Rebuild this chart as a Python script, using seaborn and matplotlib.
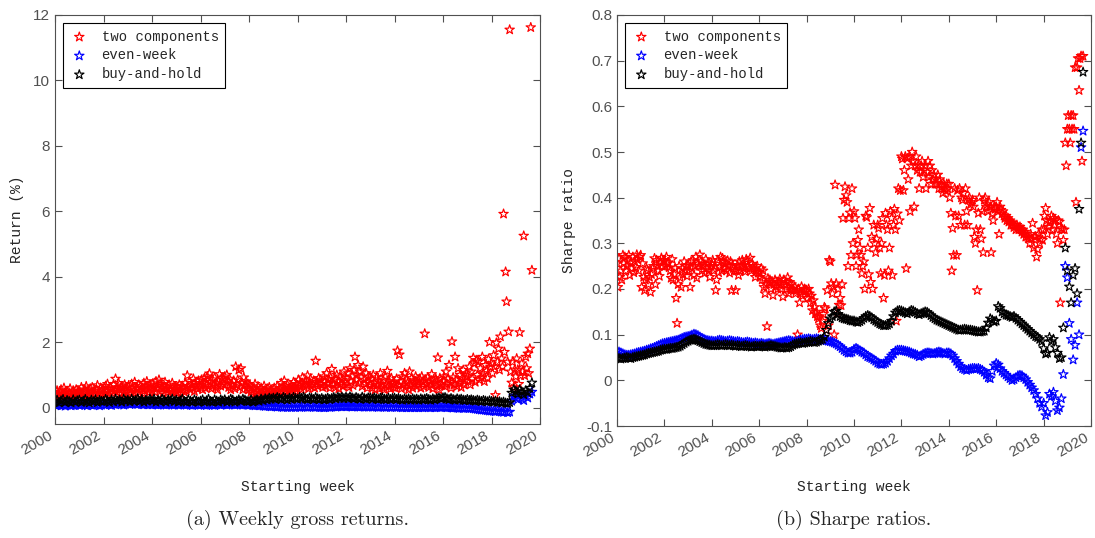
import matplotlib
matplotlib.use("Agg")
import matplotlib.pyplot as plt
import matplotlib.transforms as mtransforms
import pandas as pd
import seaborn as sns

# ---- data (panel a: weekly gross return in %, panel b: Sharpe ratio) ----
# red series are kept twice a month, blue / black bands once a month, all starting Jan 2000

series_names = ["two components", "even-week", "buy-and-hold"]
series_colors = ["#ff0000", "#0000ff", "#000000"]

ret_two = [
    # 2000
    0.45, 0.35, 0.52, 0.40, 0.30, 0.48, 0.55, 0.38, 0.42, 0.60, 0.35, 0.47,
    0.50, 0.33, 0.44, 0.58, 0.40, 0.36, 0.52, 0.45, 0.38, 0.55, 0.42, 0.48,
    # 2001
    0.50, 0.38, 0.62, 0.44, 0.36, 0.55, 0.48, 0.65, 0.40, 0.52, 0.35, 0.58,
    0.46, 0.62, 0.42, 0.50, 0.38, 0.56, 0.68, 0.45, 0.40, 0.60, 0.50, 0.44,
    # 2002
    0.55, 0.42, 0.66, 0.48, 0.72, 0.50, 0.40, 0.62, 0.56, 0.45, 0.70, 0.52,
    0.88, 0.60, 0.48, 0.75, 0.55, 0.42, 0.65, 0.58, 0.46, 0.70, 0.52, 0.62,
    # 2003
    0.48, 0.68, 0.55, 0.42, 0.72, 0.60, 0.50, 0.78, 0.45, 0.62, 0.56, 0.70,
    0.48, 0.66, 0.58, 0.44, 0.75, 0.52, 0.64, 0.80, 0.55, 0.47, 0.70, 0.60,
    # 2004
    0.52, 0.74, 0.62, 0.48, 0.80, 0.58, 0.68, 0.85, 0.50, 0.72, 0.60, 0.45,
    0.66, 0.78, 0.55, 0.62, 0.48, 0.70, 0.58, 0.52, 0.75, 0.45, 0.64, 0.56,
    # 2005
    0.50, 0.62, 0.45, 0.70, 0.55, 0.42, 0.66, 0.58, 0.48, 0.75, 0.52, 0.98,
    0.62, 0.80, 0.55, 0.70, 0.60, 0.88, 0.50, 0.75, 0.66, 0.58, 0.82, 0.70,
    # 2006
    0.62, 0.85, 0.55, 0.75, 0.90, 0.60, 0.70, 0.95, 0.65, 1.04, 0.78, 0.58,
    0.86, 0.68, 0.92, 0.62, 0.74, 0.55, 0.80, 1.02, 0.66, 0.90, 0.72, 0.85,
    # 2007
    0.95, 0.70, 1.00, 0.80, 0.62, 0.88, 0.55, 0.72, 0.66, 0.82, 0.58, 1.25,
    0.70, 0.85, 1.15, 0.62, 1.20, 0.75, 0.55, 0.92, 0.68, 0.80, 0.60, 0.72,
    # 2008
    0.55, 0.68, 0.48, 0.62, 0.40, 0.58, 0.72, 0.45, 0.52, 0.65, 0.38, 0.55,
    0.60, 0.42, 0.50, 0.66, 0.35, 0.52, 0.58, 0.44, 0.62, 0.48, 0.55, 0.40,
    # 2009
    0.45, 0.60, 0.38, 0.52, 0.66, 0.48, 0.40, 0.58, 0.75, 0.50, 0.62, 0.82,
    0.55, 0.45, 0.70, 0.52, 0.60, 0.48, 0.66, 0.55, 0.78, 0.62, 0.50, 0.72,
    # 2010
    0.58, 0.85, 0.65, 0.75, 0.55, 0.92, 0.70, 0.62, 0.80, 0.68, 0.98, 0.58,
    0.75, 0.88, 0.65, 0.72, 0.82, 0.60, 1.43, 0.78, 0.66, 0.90, 0.72, 0.85,
    # 2011
    0.70, 0.62, 0.95, 0.78, 0.65, 1.05, 0.72, 0.85, 0.60, 0.92, 1.18, 0.75,
    0.68, 0.88, 0.62, 1.00, 0.80, 0.58, 0.95, 0.72, 0.85, 0.65, 1.10, 0.78,
    # 2012
    0.90, 0.70, 1.05, 0.62, 1.20, 0.80, 0.95, 0.68, 1.15, 1.55, 0.85, 1.00,
    1.30, 0.75, 1.10, 0.92, 0.65, 1.25, 0.85, 0.72, 1.05, 0.60, 0.95, 0.78,
    # 2013
    0.70, 0.88, 0.60, 1.00, 0.75, 0.55, 0.92, 0.68, 0.80, 0.58, 1.05, 0.72,
    0.62, 0.85, 0.55, 0.95, 0.70, 1.12, 0.65, 0.80, 0.58, 0.90, 0.72, 0.62,
    # 2014
    0.75, 0.60, 0.88, 1.74, 0.68, 1.62, 0.80, 0.58, 0.95, 0.70, 1.05, 0.62,
    0.85, 0.75, 0.55, 1.10, 0.68, 0.90, 0.60, 0.82, 0.72, 0.95, 0.65, 0.78,
    # 2015
    0.70, 0.88, 0.60, 0.95, 0.78, 0.65, 2.26, 0.85, 0.72, 0.92, 0.62, 0.80,
    0.70, 1.02, 0.58, 0.85, 0.75, 0.88, 0.65, 1.53, 0.55, 0.90, 0.72, 0.68,
    # 2016
    0.80, 0.95, 0.65, 1.10, 0.72, 0.88, 1.30, 0.78, 0.60, 2.02, 0.92, 0.70,
    1.55, 0.85, 0.65, 1.20, 0.75, 1.00, 0.62, 0.90, 1.15, 0.70, 0.82, 1.05,
    # 2017
    0.95, 0.80, 1.25, 0.70, 1.10, 0.88, 1.52, 1.35, 0.78, 1.45, 1.00, 1.40,
    0.85, 1.20, 0.92, 1.55, 1.05, 0.80, 1.30, 1.12, 0.90, 1.48, 2.00, 1.25,
    # 2018
    1.35, 1.05, 1.60, 1.25, 0.38, 1.98, 1.40, 1.80, 1.15, 2.17, 1.50, 1.25,
    5.92, 1.70, 4.15, 3.24, 1.40, 2.32, 11.55, 1.10, 0.76, 1.40, 0.62, 1.16,
    # 2019
    0.95, 1.50, 1.16, 0.72, 2.30, 0.98, 1.35, 1.10, 5.25, 0.98, 1.55, 1.20,
    1.65, 1.05, 1.80, 11.62, 4.20,
]

ret_even = [
    0.09, 0.07, 0.10, 0.06, 0.08, 0.05, 0.09, 0.10, 0.06, 0.08, 0.07, 0.10,  # 2000
    0.07, 0.09, 0.10, 0.08, 0.06, 0.10, 0.08, 0.07, 0.10, 0.09, 0.06, 0.08,  # 2001
    0.10, 0.08, 0.11, 0.09, 0.07, 0.11, 0.09, 0.11, 0.12, 0.10, 0.08, 0.11,  # 2002
    0.12, 0.10, 0.12, 0.13, 0.11, 0.10, 0.12, 0.10, 0.09, 0.11, 0.09, 0.10,  # 2003
    0.09, 0.11, 0.09, 0.08, 0.10, 0.11, 0.09, 0.08, 0.10, 0.11, 0.09, 0.08,  # 2004
    0.10, 0.08, 0.09, 0.11, 0.09, 0.08, 0.10, 0.08, 0.07, 0.09, 0.10, 0.08,  # 2005
    0.08, 0.10, 0.08, 0.07, 0.09, 0.10, 0.08, 0.07, 0.09, 0.10, 0.08, 0.10,  # 2006
    0.10, 0.08, 0.09, 0.11, 0.10, 0.08, 0.09, 0.11, 0.10, 0.08, 0.09, 0.08,  # 2007
    0.08, 0.09, 0.07, 0.06, 0.07, 0.06, 0.07, 0.05, 0.04, 0.05, 0.04, 0.03,  # 2008
    0.04, 0.03, 0.02, 0.03, 0.02, 0.01, 0.02, 0.01, 0.02, 0.01, 0.02, 0.01,  # 2009
    0.02, 0.01, 0.02, 0.03, 0.02, 0.01, 0.02, 0.03, 0.02, 0.01, 0.02, 0.01,  # 2010
    0.01, 0.00, 0.01, 0.02, 0.01, 0.02, 0.03, 0.02, 0.03, 0.04, 0.03, 0.04,  # 2011
    0.03, 0.04, 0.03, 0.02, 0.03, 0.04, 0.03, 0.02, 0.03, 0.02, 0.03, 0.02,  # 2012
    0.03, 0.02, 0.03, 0.02, 0.01, 0.02, 0.03, 0.02, 0.01, 0.02, 0.01, 0.02,  # 2013
    0.02, 0.01, 0.02, 0.01, 0.00, 0.01, 0.00, 0.01, 0.00, 0.01, 0.00, 0.01,  # 2014
    0.00, 0.01, 0.00, 0.01, 0.02, 0.01, 0.00, 0.01, 0.00, 0.01, 0.02, 0.01,  # 2015
    0.02, 0.01, 0.00, 0.01, 0.00, -0.01, 0.00, -0.01, -0.02, -0.01, -0.02, -0.01,  # 2016
    -0.01, -0.02, -0.02, -0.03, -0.04, -0.05, -0.06, -0.07, -0.07, -0.08, -0.09, -0.10,  # 2017
    -0.10, -0.11, -0.12, -0.10, -0.11, -0.13, -0.14, -0.12, -0.15, -0.13, 0.20, 0.35,  # 2018
    0.30, 0.25, 0.38, 0.28, 0.22, 0.35, 0.30, 0.42, 0.48,  # 2019
]

ret_hold = [
    0.17, 0.23, 0.15, 0.21, 0.25, 0.16, 0.22, 0.19, 0.15, 0.24, 0.17, 0.21,  # 2000
    0.23, 0.16, 0.20, 0.25, 0.19, 0.15, 0.23, 0.18, 0.24, 0.16, 0.22, 0.19,  # 2001
    0.19, 0.25, 0.21, 0.16, 0.24, 0.18, 0.26, 0.20, 0.23, 0.17, 0.26, 0.20,  # 2002
    0.23, 0.18, 0.26, 0.20, 0.22, 0.27, 0.19, 0.25, 0.17, 0.23, 0.20, 0.26,  # 2003
    0.20, 0.26, 0.17, 0.23, 0.19, 0.26, 0.22, 0.17, 0.24, 0.20, 0.26, 0.19,  # 2004
    0.23, 0.17, 0.21, 0.26, 0.19, 0.17, 0.24, 0.20, 0.17, 0.24, 0.20, 0.17,  # 2005
    0.20, 0.24, 0.17, 0.21, 0.26, 0.19, 0.17, 0.24, 0.20, 0.17, 0.24, 0.20,  # 2006
    0.24, 0.17, 0.21, 0.26, 0.23, 0.17, 0.20, 0.24, 0.20, 0.26, 0.23, 0.19,  # 2007
    0.19, 0.24, 0.17, 0.21, 0.24, 0.20, 0.26, 0.22, 0.27, 0.24, 0.29, 0.26,  # 2008
    0.29, 0.26, 0.31, 0.28, 0.25, 0.31, 0.28, 0.24, 0.29, 0.26, 0.31, 0.28,  # 2009
    0.26, 0.31, 0.28, 0.32, 0.27, 0.25, 0.30, 0.28, 0.25, 0.31, 0.27, 0.25,  # 2010
    0.28, 0.24, 0.26, 0.29, 0.25, 0.28, 0.31, 0.27, 0.32, 0.29, 0.32, 0.28,  # 2011
    0.32, 0.28, 0.33, 0.30, 0.27, 0.31, 0.28, 0.26, 0.32, 0.28, 0.26, 0.30,  # 2012
    0.30, 0.26, 0.30, 0.27, 0.25, 0.29, 0.30, 0.26, 0.25, 0.29, 0.25, 0.28,  # 2013
    0.29, 0.25, 0.28, 0.25, 0.23, 0.27, 0.24, 0.27, 0.23, 0.27, 0.24, 0.26,  # 2014
    0.23, 0.27, 0.24, 0.26, 0.28, 0.25, 0.23, 0.27, 0.24, 0.28, 0.30, 0.27,  # 2015
    0.30, 0.31, 0.27, 0.25, 0.28, 0.25, 0.23, 0.27, 0.24, 0.26, 0.23, 0.22,  # 2016
    0.25, 0.22, 0.24, 0.22, 0.20, 0.23, 0.21, 0.19, 0.22, 0.20, 0.18, 0.21,  # 2017
    0.19, 0.17, 0.20, 0.16, 0.18, 0.15, 0.17, 0.14, 0.13, 0.16, 0.45, 0.55,  # 2018
    0.50, 0.42, 0.55, 0.48, 0.40, 0.52, 0.46, 0.60, 0.76,  # 2019
]

sharpe_two = [
    # 2000
    0.256, 0.204, 0.267, 0.226, 0.240, 0.220, 0.274, 0.256, 0.270, 0.240, 0.250, 0.262,
    0.274, 0.230, 0.258, 0.245, 0.270, 0.236, 0.260, 0.248, 0.275, 0.265, 0.240, 0.270,
    # 2001
    0.274, 0.204, 0.256, 0.226, 0.197, 0.220, 0.245, 0.240, 0.210, 0.226, 0.193, 0.232,
    0.245, 0.250, 0.267, 0.210, 0.263, 0.250, 0.240, 0.228, 0.260, 0.268, 0.250, 0.262,
    # 2002
    0.263, 0.250, 0.270, 0.255, 0.258, 0.247, 0.240, 0.224, 0.265, 0.220, 0.232, 0.245,
    0.180, 0.125, 0.210, 0.250, 0.225, 0.204, 0.245, 0.232, 0.260, 0.240, 0.250, 0.228,
    # 2003
    0.252, 0.240, 0.204, 0.260, 0.245, 0.263, 0.230, 0.250, 0.270, 0.224, 0.255, 0.250,
    0.275, 0.260, 0.240, 0.256, 0.250, 0.235, 0.265, 0.245, 0.258, 0.240, 0.226, 0.250,
    # 2004
    0.256, 0.263, 0.240, 0.250, 0.197, 0.220, 0.263, 0.236, 0.248, 0.270, 0.240, 0.267,
    0.260, 0.245, 0.255, 0.240, 0.262, 0.250, 0.235, 0.260, 0.197, 0.252, 0.245, 0.240,
    # 2005
    0.197, 0.240, 0.252, 0.230, 0.260, 0.240, 0.250, 0.263, 0.245, 0.252, 0.238, 0.265,
    0.260, 0.250, 0.245, 0.268, 0.240, 0.255, 0.250, 0.245, 0.226, 0.240, 0.250, 0.235,
    # 2006
    0.237, 0.226, 0.245, 0.220, 0.240, 0.204, 0.190, 0.210, 0.118, 0.223, 0.215, 0.220,
    0.200, 0.215, 0.186, 0.210, 0.220, 0.205, 0.215, 0.200, 0.215, 0.222, 0.200, 0.210,
    # 2007
    0.183, 0.220, 0.210, 0.215, 0.200, 0.225, 0.190, 0.215, 0.197, 0.210, 0.200, 0.197,
    0.205, 0.190, 0.197, 0.100, 0.200, 0.170, 0.190, 0.205, 0.185, 0.197, 0.200, 0.195,
    # 2008
    0.197, 0.180, 0.200, 0.190, 0.170, 0.185, 0.153, 0.175, 0.160, 0.146, 0.150, 0.140,
    0.135, 0.140, 0.120, 0.114, 0.130, 0.145, 0.160, 0.157, 0.110, 0.197, 0.120, 0.263,
    # 2009
    0.260, 0.212, 0.190, 0.205, 0.100, 0.428, 0.212, 0.145, 0.200, 0.165, 0.180, 0.164,
    0.210, 0.355, 0.395, 0.424, 0.405, 0.390, 0.250, 0.355, 0.367, 0.274, 0.420, 0.300,
    # 2010
    0.370, 0.355, 0.250, 0.275, 0.307, 0.330, 0.290, 0.274, 0.234, 0.250, 0.260, 0.200,
    0.360, 0.357, 0.290, 0.232, 0.377, 0.215, 0.314, 0.200, 0.340, 0.300, 0.280, 0.310,
    # 2011
    0.340, 0.333, 0.290, 0.234, 0.300, 0.355, 0.180, 0.230, 0.366, 0.340, 0.330, 0.240,
    0.290, 0.370, 0.355, 0.230, 0.340, 0.375, 0.330, 0.130, 0.365, 0.420, 0.350, 0.416,
    # 2012
    0.490, 0.485, 0.416, 0.460, 0.490, 0.245, 0.486, 0.440, 0.490, 0.370, 0.470, 0.500,
    0.480, 0.380, 0.470, 0.490, 0.460, 0.470, 0.420, 0.456, 0.470, 0.480, 0.445, 0.460,
    # 2013
    0.470, 0.420, 0.456, 0.480, 0.445, 0.470, 0.430, 0.460, 0.440, 0.450, 0.430, 0.440,
    0.430, 0.450, 0.420, 0.440, 0.430, 0.425, 0.410, 0.430, 0.420, 0.415, 0.430, 0.420,
    # 2014
    0.430, 0.400, 0.366, 0.240, 0.333, 0.274, 0.420, 0.360, 0.274, 0.416, 0.360, 0.420,
    0.340, 0.400, 0.395, 0.410, 0.340, 0.420, 0.370, 0.340, 0.395, 0.400, 0.385, 0.390,
    # 2015
    0.395, 0.380, 0.314, 0.300, 0.330, 0.197, 0.366, 0.400, 0.330, 0.310, 0.370, 0.280,
    0.395, 0.400, 0.380, 0.385, 0.370, 0.390, 0.380, 0.280, 0.365, 0.350, 0.380, 0.375,
    # 2016
    0.380, 0.390, 0.370, 0.320, 0.380, 0.373, 0.365, 0.370, 0.360, 0.355, 0.360, 0.350,
    0.355, 0.347, 0.350, 0.340, 0.345, 0.340, 0.335, 0.340, 0.330, 0.340, 0.335, 0.330,
    # 2017
    0.336, 0.330, 0.325, 0.330, 0.320, 0.325, 0.314, 0.320, 0.315, 0.310, 0.300, 0.320,
    0.310, 0.344, 0.290, 0.314, 0.315, 0.270, 0.287, 0.320, 0.300, 0.310, 0.330, 0.307,
    # 2018
    0.330, 0.360, 0.377, 0.350, 0.320, 0.336, 0.345, 0.350, 0.360, 0.330, 0.355, 0.340,
    0.350, 0.320, 0.300, 0.350, 0.347, 0.170, 0.333, 0.330, 0.307, 0.330, 0.520, 0.470,
    # 2019
    0.550, 0.580, 0.550, 0.520, 0.580, 0.550, 0.580, 0.550, 0.685, 0.390, 0.685, 0.705,
    0.635, 0.705, 0.710, 0.480, 0.710,
]

sharpe_even = [
    0.065, 0.062, 0.060, 0.058, 0.056, 0.055, 0.055, 0.056, 0.057, 0.058, 0.060, 0.061,  # 2000
    0.062, 0.063, 0.064, 0.066, 0.067, 0.069, 0.070, 0.072, 0.074, 0.076, 0.078, 0.080,  # 2001
    0.081, 0.082, 0.083, 0.084, 0.085, 0.086, 0.087, 0.088, 0.090, 0.092, 0.094, 0.095,  # 2002
    0.096, 0.097, 0.099, 0.101, 0.100, 0.098, 0.095, 0.092, 0.090, 0.088, 0.087, 0.086,  # 2003
    0.086, 0.085, 0.085, 0.087, 0.088, 0.087, 0.086, 0.085, 0.086, 0.087, 0.086, 0.085,  # 2004
    0.084, 0.085, 0.084, 0.083, 0.082, 0.083, 0.084, 0.083, 0.082, 0.081, 0.082, 0.081,  # 2005
    0.080, 0.081, 0.080, 0.079, 0.080, 0.081, 0.080, 0.079, 0.080, 0.081, 0.082, 0.083,  # 2006
    0.084, 0.085, 0.086, 0.087, 0.086, 0.085, 0.084, 0.085, 0.087, 0.088, 0.089, 0.090,  # 2007
    0.090, 0.091, 0.090, 0.089, 0.090, 0.091, 0.090, 0.089, 0.088, 0.088, 0.087, 0.086,  # 2008
    0.085, 0.084, 0.082, 0.080, 0.077, 0.074, 0.070, 0.066, 0.063, 0.060, 0.060, 0.062,  # 2009
    0.068, 0.070, 0.068, 0.065, 0.062, 0.060, 0.056, 0.052, 0.050, 0.048, 0.045, 0.042,  # 2010
    0.038, 0.036, 0.035, 0.036, 0.038, 0.042, 0.048, 0.054, 0.058, 0.064, 0.066, 0.066,  # 2011
    0.066, 0.065, 0.064, 0.063, 0.062, 0.060, 0.058, 0.057, 0.055, 0.052, 0.054, 0.057,  # 2012
    0.059, 0.060, 0.060, 0.059, 0.058, 0.059, 0.061, 0.062, 0.061, 0.059, 0.058, 0.060,  # 2013
    0.060, 0.058, 0.054, 0.048, 0.042, 0.036, 0.030, 0.026, 0.024, 0.022, 0.024, 0.025,  # 2014
    0.026, 0.026, 0.025, 0.026, 0.024, 0.022, 0.018, 0.012, 0.006, 0.004, 0.020, 0.032,  # 2015
    0.037, 0.034, 0.026, 0.020, 0.016, 0.012, 0.008, 0.004, 0.000, 0.002, 0.006, 0.010,  # 2016
    0.011, 0.010, 0.006, 0.002, -0.004, -0.010, -0.016, -0.022, -0.030, -0.040, -0.050, -0.058,  # 2017
    -0.050, -0.077, -0.070, -0.030, -0.035, -0.026, -0.045, -0.066, -0.060, -0.040, 0.013, 0.250,  # 2018
    0.225, 0.125, 0.090, 0.045, 0.077, 0.170, 0.100, 0.510, 0.546,  # 2019
]

sharpe_hold = [
    0.050, 0.048, 0.047, 0.048, 0.049, 0.050, 0.049, 0.048, 0.050, 0.051, 0.052, 0.053,  # 2000
    0.054, 0.055, 0.056, 0.058, 0.059, 0.060, 0.061, 0.062, 0.063, 0.064, 0.066, 0.067,  # 2001
    0.068, 0.068, 0.069, 0.070, 0.070, 0.071, 0.072, 0.073, 0.075, 0.078, 0.081, 0.084,  # 2002
    0.086, 0.088, 0.089, 0.090, 0.089, 0.087, 0.085, 0.083, 0.081, 0.079, 0.078, 0.077,  # 2003
    0.076, 0.076, 0.077, 0.078, 0.077, 0.076, 0.077, 0.078, 0.077, 0.076, 0.077, 0.076,  # 2004
    0.075, 0.076, 0.075, 0.074, 0.075, 0.076, 0.075, 0.074, 0.073, 0.074, 0.075, 0.074,  # 2005
    0.074, 0.075, 0.074, 0.073, 0.074, 0.075, 0.076, 0.075, 0.074, 0.073, 0.072, 0.071,  # 2006
    0.071, 0.072, 0.071, 0.072, 0.074, 0.077, 0.079, 0.080, 0.081, 0.082, 0.081, 0.082,  # 2007
    0.083, 0.084, 0.085, 0.084, 0.083, 0.084, 0.086, 0.088, 0.090, 0.095, 0.110, 0.125,  # 2008
    0.135, 0.140, 0.150, 0.152, 0.145, 0.140, 0.137, 0.135, 0.134, 0.133, 0.131, 0.130,  # 2009
    0.130, 0.128, 0.127, 0.129, 0.132, 0.136, 0.140, 0.142, 0.140, 0.137, 0.133, 0.130,  # 2010
    0.127, 0.124, 0.122, 0.120, 0.120, 0.121, 0.124, 0.130, 0.140, 0.148, 0.152, 0.153,  # 2011
    0.152, 0.150, 0.148, 0.146, 0.150, 0.153, 0.152, 0.149, 0.146, 0.144, 0.146, 0.148,  # 2012
    0.150, 0.149, 0.146, 0.142, 0.138, 0.135, 0.132, 0.130, 0.128, 0.126, 0.124, 0.122,  # 2013
    0.120, 0.118, 0.116, 0.114, 0.112, 0.110, 0.110, 0.111, 0.112, 0.111, 0.110, 0.110,  # 2014
    0.109, 0.108, 0.107, 0.106, 0.106, 0.107, 0.108, 0.115, 0.126, 0.135, 0.132, 0.128,  # 2015
    0.130, 0.162, 0.158, 0.150, 0.146, 0.143, 0.142, 0.140, 0.138, 0.140, 0.136, 0.132,  # 2016
    0.128, 0.124, 0.120, 0.116, 0.112, 0.108, 0.104, 0.100, 0.096, 0.094, 0.090, 0.085,  # 2017
    0.070, 0.058, 0.060, 0.094, 0.085, 0.090, 0.072, 0.060, 0.048, 0.050, 0.115, 0.290,  # 2018
    0.240, 0.205, 0.170, 0.230, 0.245, 0.190, 0.375, 0.520, 0.675,  # 2019
]

year_ticks = list(range(2000, 2021, 2))
ret_ticks = [0, 2, 4, 6, 8, 10, 12]
sharpe_ticks = [-0.1, 0.0, 0.1, 0.2, 0.3, 0.4, 0.5, 0.6, 0.7, 0.8]


def semi_monthly(vals):
    return pd.date_range("2000-01-01", periods=len(vals), freq="SMS")


def monthly(vals):
    return pd.date_range("2000-01-01", periods=len(vals), freq="MS")


sns.set_style("ticks")
plt.rcParams["font.family"] = ["Liberation Sans", "DejaVu Sans"]

mono = "Liberation Mono"
grey = "#505050"

fig = plt.figure(figsize=(10.95, 5.38), dpi=100)
ax_a = fig.add_axes([55 / 1095, 114 / 538, 485 / 1095, 409 / 538])
ax_b = fig.add_axes([617 / 1095, 112 / 538, 474 / 1095, 411 / 538])

panels = [
    (ax_a, [(semi_monthly(ret_two), ret_two),
            (monthly(ret_even), ret_even),
            (monthly(ret_hold), ret_hold)]),
    (ax_b, [(semi_monthly(sharpe_two), sharpe_two),
            (monthly(sharpe_even), sharpe_even),
            (monthly(sharpe_hold), sharpe_hold)]),
]

for ax, series in panels:
    for (dates, vals), name, col in zip(series, series_names, series_colors):
        sns.scatterplot(x=dates, y=vals, ax=ax, marker="*", s=50,
                        facecolors="none", edgecolor=col, linewidth=0.85,
                        label=name, legend=False)

    tick_dates = [pd.Timestamp(f"{y}-01-01") for y in year_ticks]
    ax.set_xlim(tick_dates[0], tick_dates[-1])
    ax.set_xticks(tick_dates)
    ax.set_xticklabels([str(y) for y in year_ticks], rotation=30, ha="right")
    shift = mtransforms.ScaledTranslation(10 / 100, 0, fig.dpi_scale_trans)
    for lab in ax.get_xticklabels():
        lab.set_transform(lab.get_transform() + shift)

    ax.tick_params(direction="in", top=True, right=True, length=5, width=0.8,
                   color=grey, labelcolor=grey, labelsize=11)
    for sp in ax.spines.values():
        sp.set_visible(True)
        sp.set_color(grey)
        sp.set_linewidth(0.8)

    ax.set_xlabel("Starting week", family=mono, size=10.5, color="#262626")

    leg = ax.legend(loc="upper left", prop={"family": mono, "size": 10},
                    frameon=True, fancybox=False, edgecolor="black", framealpha=1,
                    borderaxespad=0.6, handlelength=1.4, handletextpad=0.9,
                    labelspacing=0.35, borderpad=0.45, scatterpoints=1)
    leg.get_frame().set_linewidth(0.8)

ax_a.set_ylim(-0.5, 12)
ax_a.set_yticks(ret_ticks)
ax_a.set_yticklabels([str(v) for v in ret_ticks])
ax_a.set_ylabel("Return (%)", family=mono, size=10.5, color="#262626")
ax_a.yaxis.set_label_coords(-0.064, 0.5)
ax_a.xaxis.set_label_coords(0.5, -0.137)

ax_b.set_ylim(-0.1, 0.8)
ax_b.set_yticks(sharpe_ticks)
ax_b.set_yticklabels(["0" if v == 0 else f"{v:.1f}" for v in sharpe_ticks])
ax_b.set_ylabel("Sharpe ratio", family=mono, size=10.5, color="#262626")
ax_b.yaxis.set_label_coords(-0.0865, 0.5)
ax_b.xaxis.set_label_coords(0.5, -0.131)

fig.text(297 / 1095, 1 - 520 / 538, "(a) Weekly gross returns.", ha="center",
         va="center", family="cmr10", size=14.5)
fig.text(854 / 1095, 1 - 520 / 538, "(b) Sharpe ratios.", ha="center",
         va="center", family="cmr10", size=14.5)

fig.savefig("out.png", dpi=100)
